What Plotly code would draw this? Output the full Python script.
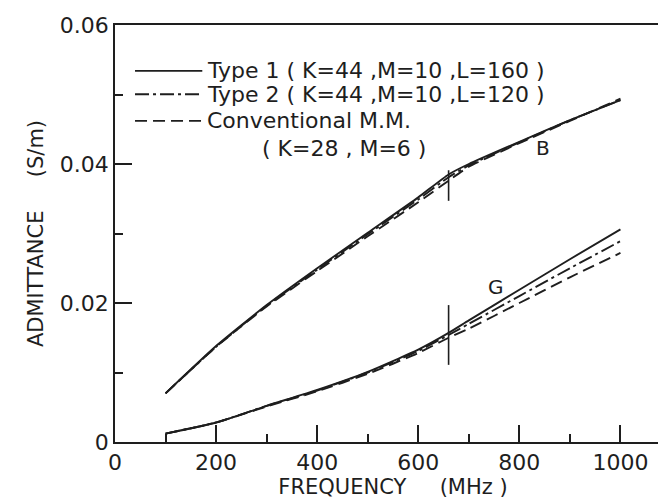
import plotly.graph_objects as go

freq = [100, 200, 300, 400, 500, 600, 660, 700, 800, 900, 1000]

# Susceptance B (S/m)
B_type1 = [0.0070, 0.0138, 0.0197, 0.0250, 0.0301, 0.0352, 0.0385, 0.0400, 0.0432, 0.0463, 0.0492]
B_type2 = [0.0070, 0.0137, 0.0196, 0.0248, 0.0299, 0.0349, 0.0381, 0.0398, 0.0431, 0.0463, 0.0492]
B_conv = [0.0070, 0.0137, 0.0195, 0.0246, 0.0296, 0.0345, 0.0376, 0.0396, 0.0430, 0.0462, 0.0494]

# Conductance G (S/m)
G_type1 = [0.0012, 0.0028, 0.0052, 0.0075, 0.0101, 0.0133, 0.0157, 0.0175, 0.0219, 0.0263, 0.0306]
G_type2 = [0.0012, 0.0028, 0.0052, 0.0074, 0.0100, 0.0131, 0.0154, 0.0170, 0.0210, 0.0250, 0.0289]
G_conv = [0.0012, 0.0028, 0.0051, 0.0073, 0.0098, 0.0128, 0.0150, 0.0163, 0.0200, 0.0237, 0.0272]

legend_lines = ["Type 1 ( K=44 ,M=10 ,L=160 )",
                "Type 2 ( K=44 ,M=10 ,L=120 )",
                "Conventional M.M."]
legend_extra = "( K=28 , M=6 )"
dashes = ["solid", "14px,4px,3px,4px", "12px,6px"]

# discontinuity markers
mark_x = 660
mark_B = [0.0347, 0.0391]
mark_G = [0.0111, 0.0197]

col = "#1e1e1e"
font = "DejaVu Sans, Verdana, sans-serif"
fig = go.Figure()
series_B = [B_type1, B_type2, B_conv]
series_G = [G_type1, G_type2, G_conv]
for i in range(3):
    fig.add_trace(go.Scatter(x=freq, y=series_B[i], mode="lines", name=legend_lines[i] + " (B)",
                             line=dict(color=col, width=1.9, dash=dashes[i],
                                       shape="spline", smoothing=0.5),
                             showlegend=False))
    fig.add_trace(go.Scatter(x=freq, y=series_G[i], mode="lines", name=legend_lines[i] + " (G)",
                             line=dict(color=col, width=1.9, dash=dashes[i],
                                       shape="spline", smoothing=0.5),
                             showlegend=False))

for seg in (mark_B, mark_G):
    fig.add_shape(type="line", x0=mark_x, x1=mark_x, y0=seg[0], y1=seg[1],
                  line=dict(color=col, width=1.6), xref="x", yref="y")

fig.add_annotation(x=846, y=0.0423, text="B", showarrow=False, font=dict(size=20, color=col))
fig.add_annotation(x=753, y=0.0223, text="G", showarrow=False, font=dict(size=20, color=col))

# manual legend (paper coordinates)
rows = [0.890, 0.834, 0.770]
for i, t in enumerate(legend_lines):
    fig.add_shape(type="line", xref="paper", yref="paper", x0=0.036, x1=0.157,
                  y0=rows[i], y1=rows[i], line=dict(color=col, width=1.9, dash=dashes[i]))
    fig.add_annotation(xref="paper", yref="paper", x=0.162, y=rows[i], text=t,
                       showarrow=False, xanchor="left", yanchor="middle",
                       font=dict(size=22, color=col))
fig.add_annotation(xref="paper", yref="paper", x=0.261, y=0.703, text=legend_extra,
                   showarrow=False, xanchor="left", yanchor="middle",
                   font=dict(size=22, color=col))

fig.update_layout(
    width=666, height=502,
    margin=dict(l=107, r=3, t=17, b=68),
    paper_bgcolor="white", plot_bgcolor="white",
    font=dict(family=font, color=col, size=22),
    showlegend=False,
    xaxis=dict(range=[0, 1100], tickvals=[0, 200, 400, 600, 800, 1000],
               ticks="inside", ticklen=17, tickwidth=1.6, tickcolor=col,
               minor=dict(dtick=100, ticks="inside", ticklen=8, tickwidth=1.6, tickcolor=col),
               showgrid=False, zeroline=False, showline=True, linecolor=col, linewidth=1.8,
               mirror=True, automargin=False,
               title=dict(text="FREQUENCY     (MHz )", standoff=4, font=dict(size=21)),
               tickfont=dict(size=22)),
    yaxis=dict(range=[0, 0.06], tickvals=[0, 0.02, 0.04, 0.06],
               ticktext=["0", "0.02", "0.04", "0.06"],
               ticks="inside", ticklen=17, tickwidth=1.6, tickcolor=col,
               minor=dict(dtick=0.01, ticks="inside", ticklen=8, tickwidth=1.6, tickcolor=col),
               showgrid=False, zeroline=False, showline=True, linecolor=col, linewidth=1.8,
               mirror=True, automargin=False,
               title=dict(text="ADMITTANCE     (S/m)", standoff=10, font=dict(size=21)),
               tickfont=dict(size=22)),
)

fig.write_html("out.html")
